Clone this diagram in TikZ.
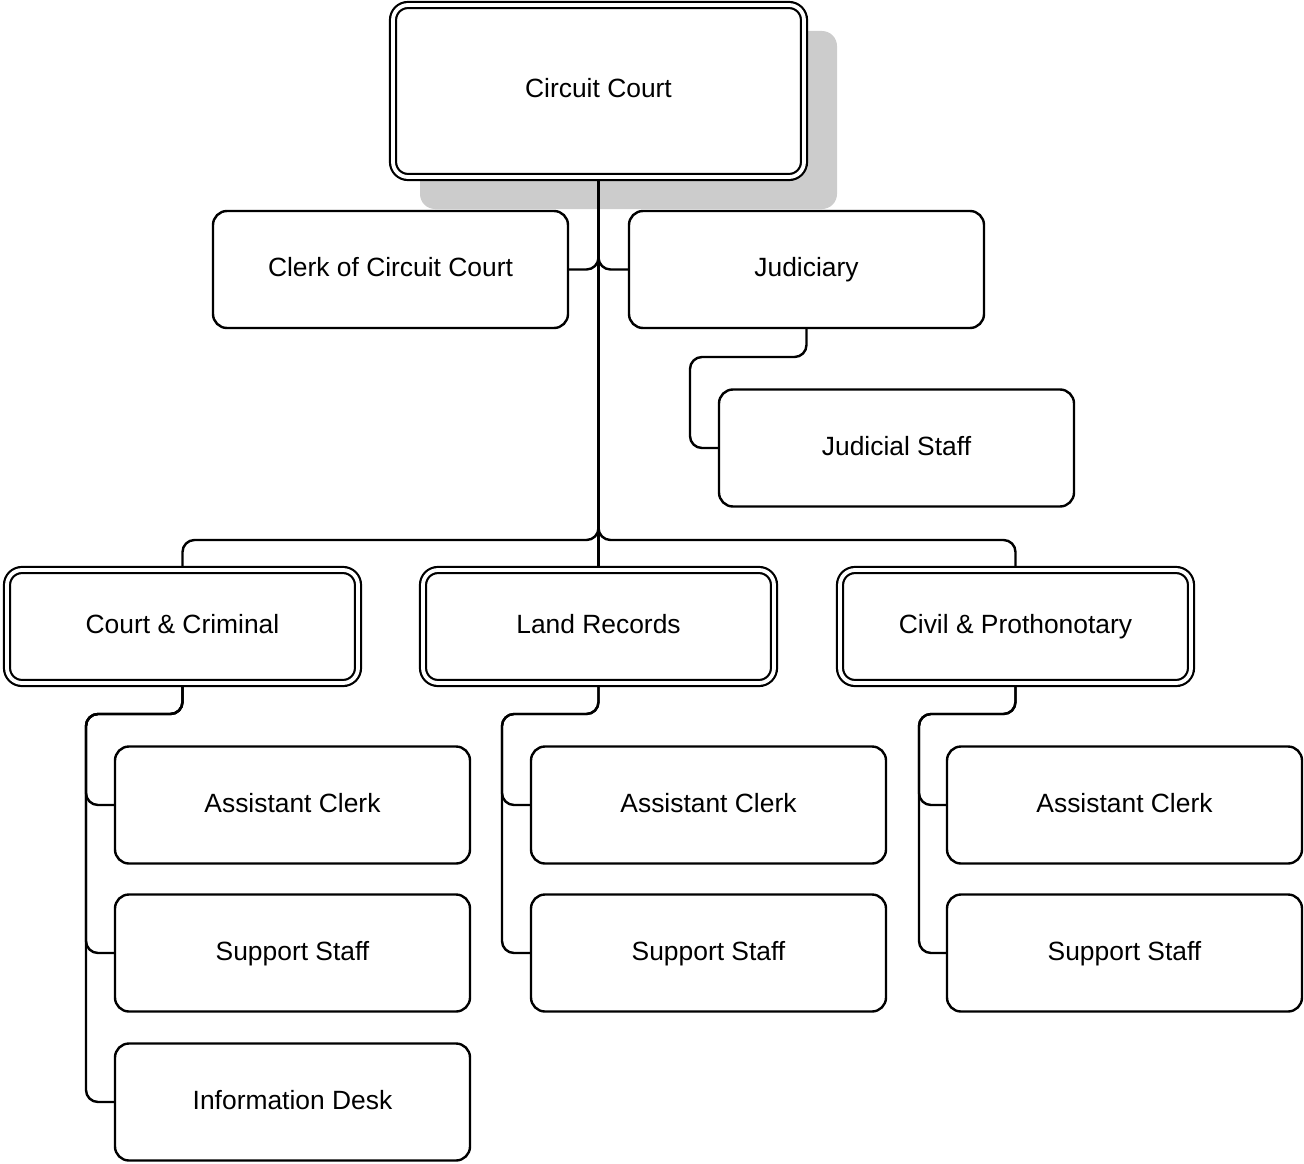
\documentclass[tikz,border=0pt]{standalone}
\usepackage{fontspec}
\setmainfont{Liberation Sans}
\usetikzlibrary{backgrounds}
\definecolor{shadowgray}{HTML}{CCCCCC}
\begin{document}
\begin{tikzpicture}[x=1pt,y=-1pt,
  box/.style={draw,line width=2.4pt,rounded corners=14pt,fill=white,
    minimum width=355pt,minimum height=117pt,inner sep=0pt,
    text height=19pt,text depth=5pt,
    font=\fontsize{26.4}{30}\selectfont},
  dbox/.style={draw,line width=2.2pt,double=white,double distance=3.8pt,
    rounded corners=15pt,fill=white,minimum width=351pt,minimum height=113pt,
    inner sep=0pt,text height=19pt,text depth=5pt,
    font=\fontsize{26.4}{30}\selectfont},
  link/.style={line width=2.4pt,rounded corners=12pt}]
\useasboundingbox (0,0) rectangle (1304,1164);
% nodes
\node[dbox,minimum width=411pt,minimum height=172pt] (top) at (598.5,91) {Circuit Court};
\node[box] (clerk) at (390.5,269.5) {Clerk of Circuit Court};
\node[box] (jud) at (806.5,269.5) {Judiciary};
\node[box] (jstaff) at (896.5,448) {Judicial Staff};
\node[dbox] (crim) at (182.5,626.5) {Court \& Criminal};
\node[dbox] (land) at (598.5,626.5) {Land Records};
\node[dbox] (civil) at (1015.5,626.5) {Civil \& Prothonotary};
\node[box] (a1) at (292.5,805) {Assistant Clerk};
\node[box] (s1) at (292.5,953) {Support Staff};
\node[box] (i1) at (292.5,1102) {Information Desk};
\node[box] (a2) at (708.5,805) {Assistant Clerk};
\node[box] (s2) at (708.5,953) {Support Staff};
\node[box] (a3) at (1124.5,805) {Assistant Clerk};
\node[box] (s3) at (1124.5,953) {Support Staff};
\coordinate (bus) at (598.5,540);
\coordinate (jbend) at (690,357);
\coordinate (c1) at (86,714);
\coordinate (c2) at (502,714);
\coordinate (c3) at (919,714);
\begin{scope}[on background layer]
% shadow
\fill[shadowgray,rounded corners=15pt] (420,31) rectangle (837,209);
\draw[link] (top.south) -- (land.north);
\draw[link] (top.south) |- (clerk.east);
\draw[link] (top.south) |- (jud.west);
\draw[link] (top.south) -- (bus) -| (crim.north);
\draw[link] (top.south) -- (bus) -| (civil.north);
\draw[link] (jud.south) |- (jbend) |- (jstaff.west);
\draw[link] (crim.south) |- (c1) |- (a1.west);
\draw[link] (crim.south) |- (c1) |- (s1.west);
\draw[link] (crim.south) |- (c1) |- (i1.west);
\draw[link] (land.south) |- (c2) |- (a2.west);
\draw[link] (land.south) |- (c2) |- (s2.west);
\draw[link] (civil.south) |- (c3) |- (a3.west);
\draw[link] (civil.south) |- (c3) |- (s3.west);
\end{scope}
\end{tikzpicture}
\end{document}
